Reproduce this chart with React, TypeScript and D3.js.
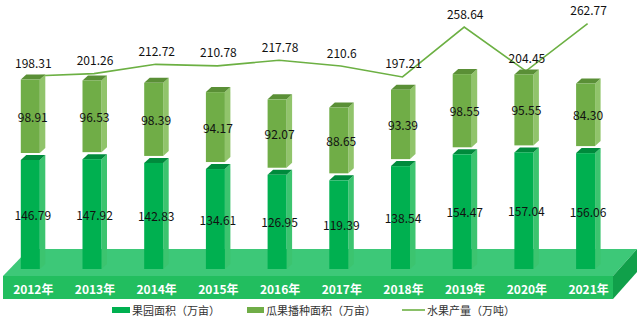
import React from "react";
import * as d3 from "d3";

const years = ["2012年", "2013年", "2014年", "2015年", "2016年", "2017年", "2018年", "2019年", "2020年", "2021年"];
const orchardArea = [146.79, 147.92, 142.83, 134.61, 126.95, 119.39, 138.54, 154.47, 157.04, 156.06];
const melonArea = [98.91, 96.53, 98.39, 94.17, 92.07, 88.65, 93.39, 98.55, 95.55, 84.3];
const fruitOutput = [198.31, 201.26, 212.72, 210.78, 217.78, 210.6, 197.21, 258.64, 204.45, 262.77];
const legendLabels = ["果园面积（万亩）", "瓜果播种面积（万亩）", "水果产量（万吨）"];

const W = 640;
const H = 319;
const FONT = "'Noto Sans CJK SC', 'Noto Sans', sans-serif";

const x = d3.scaleLinear().domain([0, years.length - 1]).range([30.3, 585.6]);
const barH = d3.scaleLinear().domain([0, 100]).range([0, 74.26]);
const yLine = d3.scaleLinear().domain([0, 262.77]).range([237, 23.7]);

const BASE = 269;
const HALF = 9.5;
const DX = 5.5;
const DY = 5;
const GAP = 7;

function Box({ cx, top, bottom, front, side, topC }: any) {
  const l = cx - HALF, r = cx + HALF;
  return (
    <g>
      <polygon points={`${r},${bottom} ${r + DX},${bottom - DY} ${r + DX},${top - DY} ${r},${top}`} fill={side} />
      <polygon points={`${l},${top} ${l + DX},${top - DY} ${r + DX},${top - DY} ${r},${top}`} fill={topC} />
      <rect x={l} y={top} width={r - l} height={bottom - top} fill={front} />
    </g>
  );
}

export default function App() {
  const line = d3.line<number>().x((_, i) => x(i) + 2).y((v) => yLine(v));
  return (
    <svg width={W} height={H} style={{ display: "block", position: "absolute", left: 0, top: 0 }} fontFamily={FONT}>
      <rect width={W} height={H} fill="#fff" />
      {/* platform */}
      <polygon points="29,249 637,249 613,276 3,276" fill="#3dc878" />
      <polygon points="613,276 637,249 637,272 613,299" fill="#10a04a" />
      <rect x={3} y={276} width={610} height={23} fill="#22be5f" />
      {/* line behind bars */}
      <path d={line(fruitOutput) || ""} fill="none" stroke="#6cb043" strokeWidth={1.6} />
      {years.map((yr, i) => {
        const cx = x(i);
        const lowTop = BASE - barH(orchardArea[i]);
        const upBottom = lowTop - GAP;
        const upTop = upBottom - barH(melonArea[i]);
        return (
          <g key={yr}>
            <Box cx={cx} top={lowTop} bottom={BASE} front="#00b050" side="#3cc46f" topC="#008a3c" />
            <Box cx={cx} top={upTop} bottom={upBottom} front="#70ad47" side="#91c46b" topC="#5a8f36" />
            <text x={cx + 2.5} y={(lowTop + BASE) / 2} textAnchor="middle" dominantBaseline="central" fontSize={12} fill="#111">
              {orchardArea[i].toFixed(2)}
            </text>
            <text x={cx + 2.5} y={(upTop + upBottom) / 2} textAnchor="middle" dominantBaseline="central" fontSize={12} fill="#111">
              {melonArea[i].toFixed(2)}
            </text>
            <text x={cx + 3} y={288} textAnchor="middle" dominantBaseline="central" fontSize={12} fontWeight="bold" fill="#fff">
              {yr}
            </text>
            <text x={cx + 3} y={yLine(fruitOutput[i]) - 14} textAnchor="middle" dominantBaseline="central" fontSize={12} fill="#111">
              {String(fruitOutput[i])}
            </text>
          </g>
        );
      })}
      {/* legend */}
      <g fontSize={11} fill="#333">
        <rect x={112} y={307} width={18} height={6} fill="#00b050" />
        <text x={132} y={310} dominantBaseline="central">{legendLabels[0]}</text>
        <rect x={247} y={307} width={17} height={6} fill="#70ad47" />
        <text x={266} y={310} dominantBaseline="central">{legendLabels[1]}</text>
        <line x1={402} x2={425} y1={310} y2={310} stroke="#6cb043" strokeWidth={1.6} />
        <text x={427} y={310} dominantBaseline="central">{legendLabels[2]}</text>
      </g>
    </svg>
  );
}
